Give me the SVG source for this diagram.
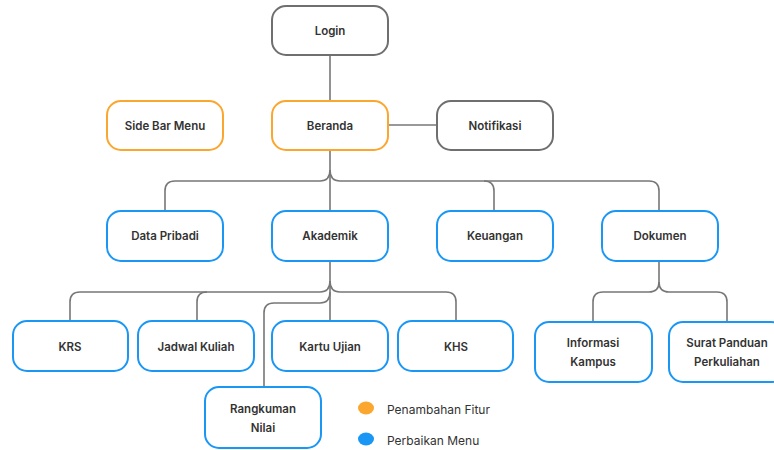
<svg xmlns="http://www.w3.org/2000/svg" width="774" height="450" viewBox="0 0 774 450">
<style>
.n rect{fill:#fff;stroke-width:2}
.g rect{stroke:#6f6f6f}
.o rect{stroke:#FBA62F}
.b rect{stroke:#1A96F5}
.n text{font-family:Inter,"Noto Sans",sans-serif;font-size:11.5px;font-weight:600;fill:#333;text-anchor:middle;dominant-baseline:central}
#connectors path{fill:none;stroke:#777;stroke-width:1.6}
.lg{font-family:Inter,"Noto Sans",sans-serif;font-size:12px;fill:#333;dominant-baseline:central}
</style>
<rect width="774" height="450" fill="#fff"/>
<g id="connectors">
<path d="M330,56 V101"/>
<path d="M389,125 H437"/>
<path d="M330,150 V210"/>
<path d="M330,170 Q330,181 320,181 H175 Q165,181 165,191 V210"/>
<path d="M330,170 Q330,181 340,181 H649 Q659,181 659,191 V210"/>
<path d="M484,181 Q494,181 494,191 V210"/>
<path d="M330,261 V321"/>
<path d="M330,281 Q330,292 320,292 H80 Q70,292 70,302 V321"/>
<path d="M207,292 Q197,292 197,302 V321"/>
<path d="M330,281 Q330,292 340,292 H446 Q456,292 456,302 V321"/>
<path d="M330,292 Q330,303 320,303 H274 Q264,303 264,313 V387"/>
<path d="M659,261 V282 Q659,292 649,292 H603 Q593,292 593,302 V322"/>
<path d="M659,282 Q659,292 669,292 H717 Q727,292 727,302 V322"/>
</g>
<g id="login" class="n g"><rect x="272" y="6" width="116" height="49" rx="14"/><text x="330" y="31">Login</text></g>
<g id="sidebar" class="n o"><rect x="107" y="101" width="116" height="49" rx="14"/><text x="165" y="126">Side Bar Menu</text></g>
<g id="beranda" class="n o"><rect x="272" y="101" width="116" height="49" rx="14"/><text x="330" y="126">Beranda</text></g>
<g id="notifikasi" class="n g"><rect x="437" y="101" width="116" height="49" rx="14"/><text x="495" y="126">Notifikasi</text></g>
<g id="datapribadi" class="n b"><rect x="107" y="211" width="116" height="50" rx="14"/><text x="165" y="236">Data Pribadi</text></g>
<g id="akademik" class="n b"><rect x="272" y="211" width="116" height="50" rx="14"/><text x="330" y="236">Akademik</text></g>
<g id="keuangan" class="n b"><rect x="437" y="211" width="116" height="50" rx="14"/><text x="495" y="236">Keuangan</text></g>
<g id="dokumen" class="n b"><rect x="602" y="211" width="116" height="50" rx="14"/><text x="660" y="236">Dokumen</text></g>
<g id="krs" class="n b"><rect x="13" y="321" width="115" height="50" rx="14"/><text x="70" y="347">KRS</text></g>
<g id="jadwal" class="n b"><rect x="138" y="321" width="116" height="50" rx="14"/><text x="196" y="347">Jadwal Kuliah</text></g>
<g id="kartu" class="n b"><rect x="272" y="321" width="116" height="50" rx="14"/><text x="330" y="347">Kartu Ujian</text></g>
<g id="khs" class="n b"><rect x="398" y="321" width="115" height="50" rx="14"/><text x="456" y="347">KHS</text></g>
<g id="rangkuman" class="n b"><rect x="205" y="387" width="116" height="61" rx="14"/><text x="263" y="409">Rangkuman</text><text x="263" y="428">Nilai</text></g>
<g id="informasi" class="n b"><rect x="535" y="322" width="117" height="60" rx="14"/><text x="593" y="343">Informasi</text><text x="593" y="362">Kampus</text></g>
<g id="surat" class="n b"><rect x="669" y="322" width="116" height="60" rx="14"/><text x="727" y="343">Surat Panduan</text><text x="727" y="362">Perkuliahan</text></g>
<g id="legend">
<ellipse cx="366" cy="408" rx="8" ry="6.5" fill="#FBA62F"/>
<text class="lg" x="387" y="409">Penambahan Fitur</text>
<ellipse cx="366" cy="439" rx="8" ry="6.5" fill="#1A96F5"/>
<text class="lg" x="387" y="440">Perbaikan Menu</text>
</g>
</svg>
